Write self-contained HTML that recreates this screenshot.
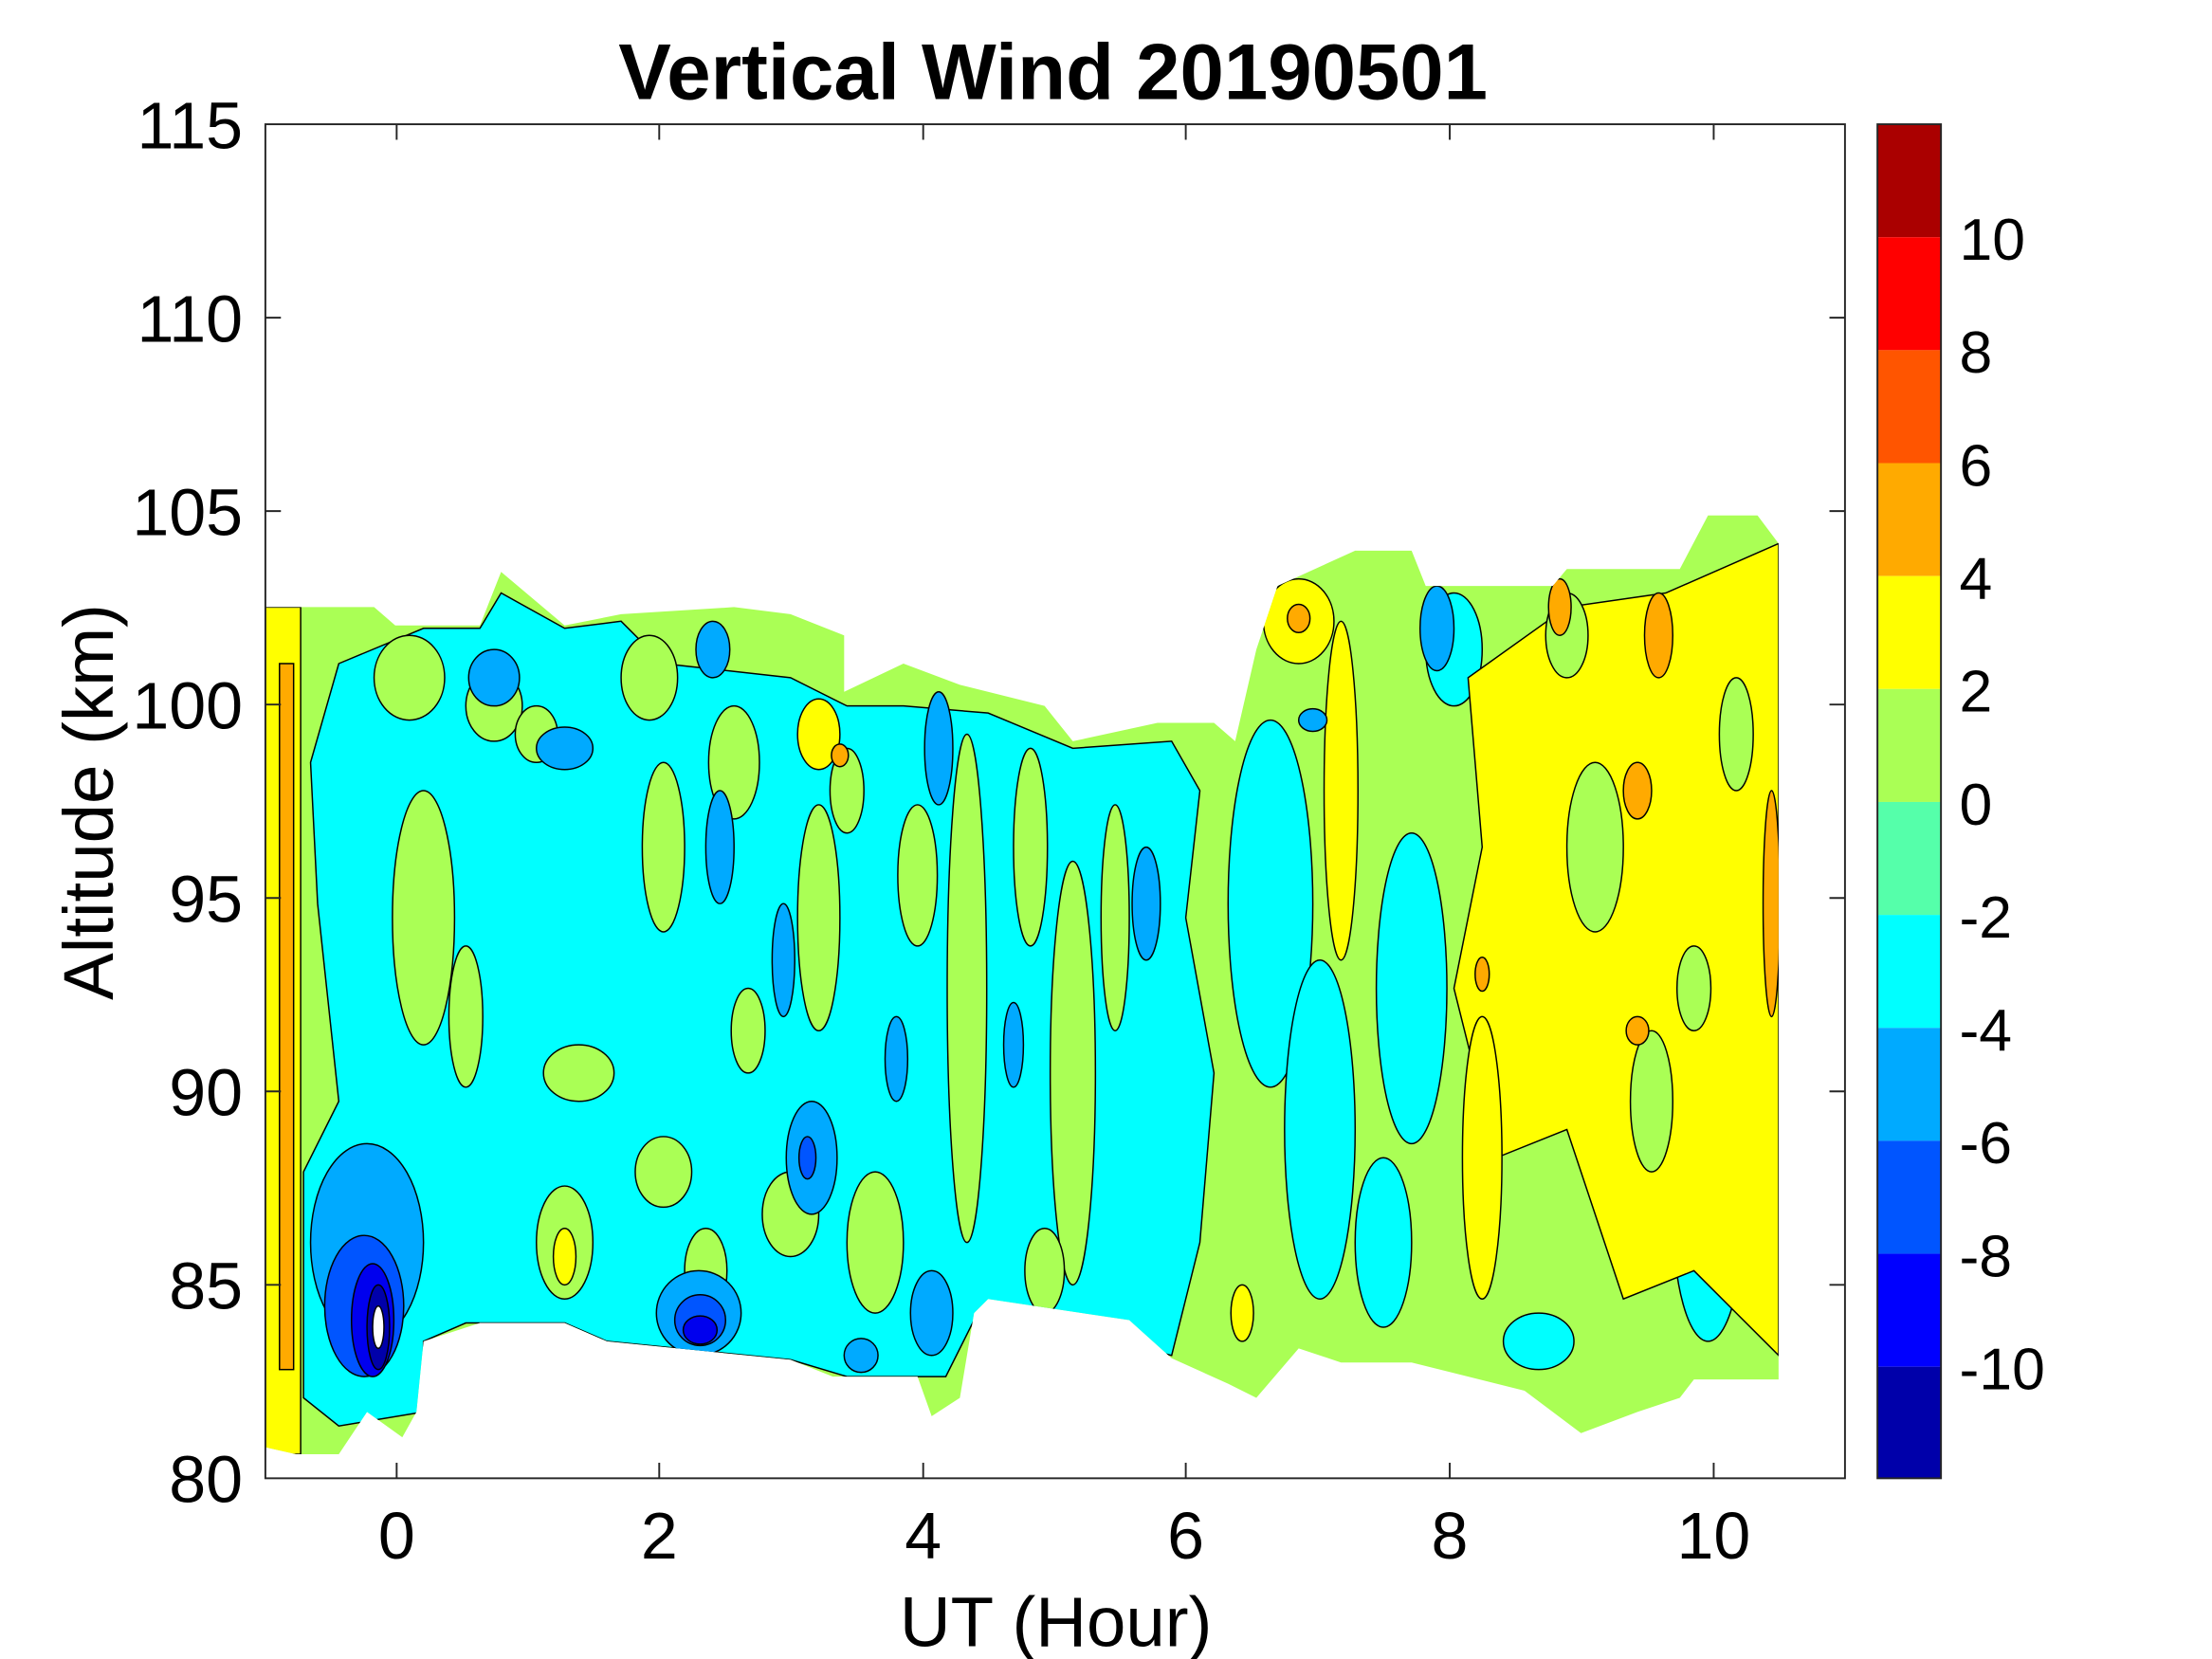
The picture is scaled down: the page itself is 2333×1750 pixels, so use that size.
<!DOCTYPE html>
<html><head><meta charset="utf-8"><style>
html,body{margin:0;padding:0;background:#fff;}
svg{display:block;}
text{font-family:"Liberation Sans",Arial,sans-serif;fill:#000;}
</style></head><body>
<svg width="2333" height="1750" viewBox="0 0 1567 1175" preserveAspectRatio="none" xmlns="http://www.w3.org/2000/svg">
<defs><clipPath id="shape"><polygon points="188,430 265,430 280,443 340,443 355,405 400,443 440,435 520,430 560,435 598,450 598,490 640,470 680,485 740,500 760,525 820,512 860,512 875,525 890,460 905,415 960,390 1000,390 1010,415 1100,415 1110,403 1190,403 1210,365 1245,365 1260,385 1260,977 1200,977 1190,990 1160,1000 1120,1015 1100,1000 1080,985 1000,965 950,965 920,955 890,990 870,980 830,962 800,935 700,920 690,930 680,990 660,1003 650,975 590,975 560,963 430,950 400,937 340,937 300,950 295,1000 285,1018 260,1000 240,1030 210,1030 188,1025"/></clipPath></defs>
<rect x="188" y="88" width="1119" height="959" fill="#fff"/>
<g clip-path="url(#shape)" stroke="#000" stroke-width="1">
<rect x="188" y="360" width="1080" height="680" fill="#AAFF55"/>
<polygon fill="#00FFFF" points="300,445 340,445 355,420 400,445 440,440 470,470 560,480 600,500 640,500 700,505 760,530 830,525 850,560 840,650 860,760 850,880 830,960 700,925 690,935 670,975 600,975 560,963 430,950 400,937 330,937 300,950 300,1000 240,1010 215,990 215,830 240,780 225,640 220,540 240,470"/>
<g fill="#AAFF55">
<ellipse cx="300" cy="650" rx="22" ry="90"/><ellipse cx="330" cy="720" rx="12" ry="50"/>
<ellipse cx="290" cy="480" rx="25" ry="30"/><ellipse cx="350" cy="500" rx="20" ry="25"/>
<ellipse cx="410" cy="760" rx="25" ry="20"/><ellipse cx="470" cy="830" rx="20" ry="25"/>
<ellipse cx="400" cy="880" rx="20" ry="40"/><ellipse cx="500" cy="900" rx="15" ry="30"/>
<ellipse cx="470" cy="600" rx="15" ry="60"/><ellipse cx="530" cy="730" rx="12" ry="30"/>
<ellipse cx="580" cy="650" rx="15" ry="80"/><ellipse cx="620" cy="880" rx="20" ry="50"/>
<ellipse cx="650" cy="620" rx="14" ry="50"/><ellipse cx="685" cy="700" rx="14" ry="180"/>
<ellipse cx="600" cy="560" rx="12" ry="30"/><ellipse cx="730" cy="600" rx="12" ry="70"/>
<ellipse cx="760" cy="760" rx="16" ry="150"/><ellipse cx="790" cy="650" rx="10" ry="80"/>
<ellipse cx="560" cy="860" rx="20" ry="30"/><ellipse cx="740" cy="900" rx="14" ry="30"/>
<ellipse cx="460" cy="480" rx="20" ry="30"/><ellipse cx="520" cy="540" rx="18" ry="40"/>
<ellipse cx="250" cy="880" rx="20" ry="30"/><ellipse cx="380" cy="520" rx="15" ry="20"/>
</g>
<g fill="#00FFFF">
<ellipse cx="900" cy="640" rx="30" ry="130"/><ellipse cx="935" cy="800" rx="25" ry="120"/>
<ellipse cx="1000" cy="700" rx="25" ry="110"/><ellipse cx="980" cy="880" rx="20" ry="60"/>
<ellipse cx="1090" cy="650" rx="15" ry="60"/><ellipse cx="1210" cy="860" rx="25" ry="90"/>
<ellipse cx="1030" cy="460" rx="20" ry="40"/><ellipse cx="1090" cy="950" rx="25" ry="20"/>
</g>
<g fill="#FFFF00">
<rect x="188" y="430" width="25" height="600"/>
<polygon points="1040,480 1110,430 1180,420 1260,385 1260,960 1230,930 1200,900 1150,920 1110,800 1060,820 1030,700 1050,600"/>
<ellipse cx="950" cy="560" rx="12" ry="120"/><ellipse cx="1050" cy="820" rx="14" ry="100"/>
<ellipse cx="920" cy="440" rx="25" ry="30"/><ellipse cx="400" cy="890" rx="8" ry="20"/>
<ellipse cx="880" cy="930" rx="8" ry="20"/><ellipse cx="580" cy="520" rx="15" ry="25"/>
</g>
<g fill="#AAFF55">
<ellipse cx="1130" cy="600" rx="20" ry="60"/><ellipse cx="1200" cy="700" rx="12" ry="30"/>
<ellipse cx="1110" cy="450" rx="15" ry="30"/><ellipse cx="1170" cy="780" rx="15" ry="50"/>
<ellipse cx="1230" cy="520" rx="12" ry="40"/>
</g>
<g fill="#FFAA00">
<rect x="198" y="470" width="10" height="500"/>
<ellipse cx="1160" cy="560" rx="10" ry="20"/><ellipse cx="1175" cy="450" rx="10" ry="30"/>
<ellipse cx="1255" cy="640" rx="6" ry="80"/><ellipse cx="1105" cy="430" rx="8" ry="20"/>
<ellipse cx="920" cy="438" rx="8" ry="10"/><ellipse cx="1050" cy="690" rx="5" ry="12"/>
<ellipse cx="1160" cy="730" rx="8" ry="10"/><ellipse cx="595" cy="535" rx="6" ry="8"/>
</g>
<g fill="#00AAFF">
<ellipse cx="400" cy="530" rx="20" ry="15"/><ellipse cx="350" cy="480" rx="18" ry="20"/>
<ellipse cx="510" cy="600" rx="10" ry="40"/><ellipse cx="555" cy="680" rx="8" ry="40"/>
<ellipse cx="575" cy="820" rx="18" ry="40"/><ellipse cx="505" cy="460" rx="12" ry="20"/>
<ellipse cx="665" cy="530" rx="10" ry="40"/><ellipse cx="635" cy="750" rx="8" ry="30"/>
<ellipse cx="718" cy="740" rx="7" ry="30"/><ellipse cx="812" cy="640" rx="10" ry="40"/>
<ellipse cx="260" cy="880" rx="40" ry="70"/><ellipse cx="495" cy="930" rx="30" ry="30"/>
<ellipse cx="660" cy="930" rx="15" ry="30"/><ellipse cx="1018" cy="445" rx="12" ry="30"/>
<ellipse cx="930" cy="510" rx="10" ry="8"/><ellipse cx="610" cy="960" rx="12" ry="12"/>
</g>
<g fill="#0055FF"><ellipse cx="258" cy="925" rx="28" ry="50"/><ellipse cx="496" cy="935" rx="18" ry="18"/><ellipse cx="572" cy="820" rx="6" ry="15"/></g>
<g fill="#0000EE"><ellipse cx="264" cy="935" rx="15" ry="40"/><ellipse cx="496" cy="942" rx="12" ry="10"/></g>
<g fill="#0000AA"><ellipse cx="268" cy="940" rx="8" ry="30"/></g>
<ellipse cx="268" cy="940" rx="4" ry="15" fill="#fff"/>
</g>
<rect x="188" y="88" width="1119" height="959" fill="none" stroke="#262626" stroke-width="1.3"/>
<g stroke="#262626" stroke-width="1.3">
<line x1="281" y1="1047" x2="281" y2="1036"/><line x1="467" y1="1047" x2="467" y2="1036"/><line x1="654" y1="1047" x2="654" y2="1036"/><line x1="840" y1="1047" x2="840" y2="1036"/><line x1="1027" y1="1047" x2="1027" y2="1036"/><line x1="1214" y1="1047" x2="1214" y2="1036"/>
<line x1="281" y1="88" x2="281" y2="99"/><line x1="467" y1="88" x2="467" y2="99"/><line x1="654" y1="88" x2="654" y2="99"/><line x1="840" y1="88" x2="840" y2="99"/><line x1="1027" y1="88" x2="1027" y2="99"/><line x1="1214" y1="88" x2="1214" y2="99"/>
<line x1="188" y1="225" x2="199" y2="225"/><line x1="188" y1="362" x2="199" y2="362"/><line x1="188" y1="499" x2="199" y2="499"/><line x1="188" y1="636" x2="199" y2="636"/><line x1="188" y1="773" x2="199" y2="773"/><line x1="188" y1="910" x2="199" y2="910"/>
<line x1="1307" y1="225" x2="1296" y2="225"/><line x1="1307" y1="362" x2="1296" y2="362"/><line x1="1307" y1="499" x2="1296" y2="499"/><line x1="1307" y1="636" x2="1296" y2="636"/><line x1="1307" y1="773" x2="1296" y2="773"/><line x1="1307" y1="910" x2="1296" y2="910"/>
</g>
<g font-size="47" text-anchor="end">
<text x="172" y="105">115</text><text x="172" y="242">110</text><text x="172" y="379">105</text><text x="172" y="516">100</text><text x="172" y="653">95</text><text x="172" y="790">90</text><text x="172" y="927">85</text><text x="172" y="1064">80</text>
</g>
<g font-size="47" text-anchor="middle">
<text x="281" y="1104">0</text><text x="467" y="1104">2</text><text x="654" y="1104">4</text><text x="840" y="1104">6</text><text x="1027" y="1104">8</text><text x="1214" y="1104">10</text>
</g>
<text x="748" y="1166" font-size="50" text-anchor="middle">UT (Hour)</text>
<text transform="translate(80,568) rotate(-90)" font-size="50" text-anchor="middle">Altitude (km)</text>
<text x="746" y="70" font-size="56" font-weight="bold" text-anchor="middle">Vertical Wind 20190501</text>
<g>
<rect x="1330" y="88" width="45" height="80" fill="#AA0000"/>
<rect x="1330" y="168" width="45" height="80" fill="#FF0000"/>
<rect x="1330" y="248" width="45" height="80" fill="#FF5500"/>
<rect x="1330" y="328" width="45" height="80" fill="#FFAA00"/>
<rect x="1330" y="408" width="45" height="80" fill="#FFFF00"/>
<rect x="1330" y="488" width="45" height="80" fill="#AAFF55"/>
<rect x="1330" y="568" width="45" height="80" fill="#55FFAA"/>
<rect x="1330" y="648" width="45" height="80" fill="#00FFFF"/>
<rect x="1330" y="728" width="45" height="80" fill="#00AAFF"/>
<rect x="1330" y="808" width="45" height="80" fill="#0055FF"/>
<rect x="1330" y="888" width="45" height="80" fill="#0000FF"/>
<rect x="1330" y="968" width="45" height="79" fill="#0000AA"/>
<rect x="1330" y="88" width="45" height="959" fill="none" stroke="#262626" stroke-width="1.3"/>
</g>
<g font-size="42">
<text x="1388" y="184">10</text><text x="1388" y="264">8</text><text x="1388" y="344">6</text><text x="1388" y="424">4</text><text x="1388" y="504">2</text><text x="1388" y="584">0</text><text x="1388" y="664">-2</text><text x="1388" y="744">-4</text><text x="1388" y="824">-6</text><text x="1388" y="904">-8</text><text x="1388" y="984">-10</text>
</g>
</svg>
</body></html>
